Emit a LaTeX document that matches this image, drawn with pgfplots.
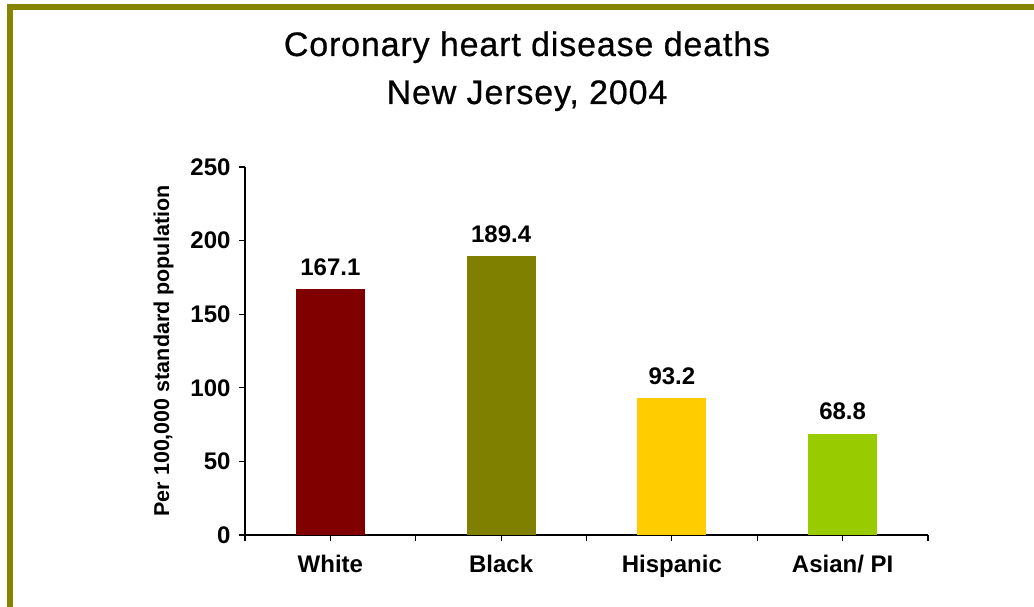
\documentclass[border=0pt]{standalone}
\usepackage{pgfplots}
\pgfplotsset{compat=1.18}
\usepackage{fontspec}
\setmainfont{Liberation Sans}

\definecolor{frame}{RGB}{133,133,0}
\definecolor{cwhite}{RGB}{128,0,0}
\definecolor{cblack}{RGB}{128,128,0}
\definecolor{chisp}{RGB}{255,204,0}
\definecolor{casian}{RGB}{153,204,0}

\begin{document}
\begin{tikzpicture}[x=1pt,y=1pt]
\useasboundingbox (0,0) rectangle (1034,607);
\fill[white] (0,0) rectangle (1034,607);
% olive frame (left and top edges only)
\draw[frame, line width=6pt, line join=miter] (9.7,0) -- (9.7,599.5) -- (1034,599.5);

% title
\node[anchor=base, font=\fontsize{34}{40}\selectfont\addfontfeature{LetterSpace=2.5,FakeBold=0.6}] at (527,551) {Coronary heart disease deaths};
\node[anchor=base, font=\fontsize{34}{40}\selectfont\addfontfeature{LetterSpace=2.5,FakeBold=0.6}] at (527,503) {New Jersey, 2004};

\begin{axis}[
    at={(245pt,72pt)}, anchor=south west,
    scale only axis,
    width=683pt, height=368pt,
    xmin=-0.5, xmax=3.5,
    ymin=0, ymax=250,
    axis lines=left,
    axis line style={-, line width=1.2pt},
    tick style={black, line width=1.2pt},
    tick align=outside,
    major tick length=6pt,
    xtick={0,1,2,3},
    xticklabels={White, Black, Hispanic, Asian/ PI},
    extra x ticks={-0.5,0.5,1.5,2.5,3.5},
    extra x tick labels={},
    ytick={0,50,100,150,200,250},
    /pgf/number format/assume math mode=true,
    ticklabel style={font=\fontsize{24}{28}\selectfont\bfseries},
    xticklabel style={yshift=-11pt},
    yticklabel style={xshift=-5pt},
    ylabel={Per 100,000 standard population},
    ylabel style={font=\fontsize{21.5}{25}\selectfont\bfseries, yshift=10pt},
    ybar, bar width=69pt,
    nodes near coords,
    every node near coord/.append style={font=\fontsize{24}{28}\selectfont\bfseries, yshift=10pt},
    point meta=explicit symbolic,
]
\addplot[fill=cwhite, draw=none, bar shift=0pt] coordinates {(0,167.1) [167.1]};
\addplot[fill=cblack, draw=none, bar shift=0pt] coordinates {(1,189.4) [189.4]};
\addplot[fill=chisp, draw=none, bar shift=0pt] coordinates {(2,93.2) [93.2]};
\addplot[fill=casian, draw=none, bar shift=0pt] coordinates {(3,68.8) [68.8]};
\end{axis}
\end{tikzpicture}
\end{document}
